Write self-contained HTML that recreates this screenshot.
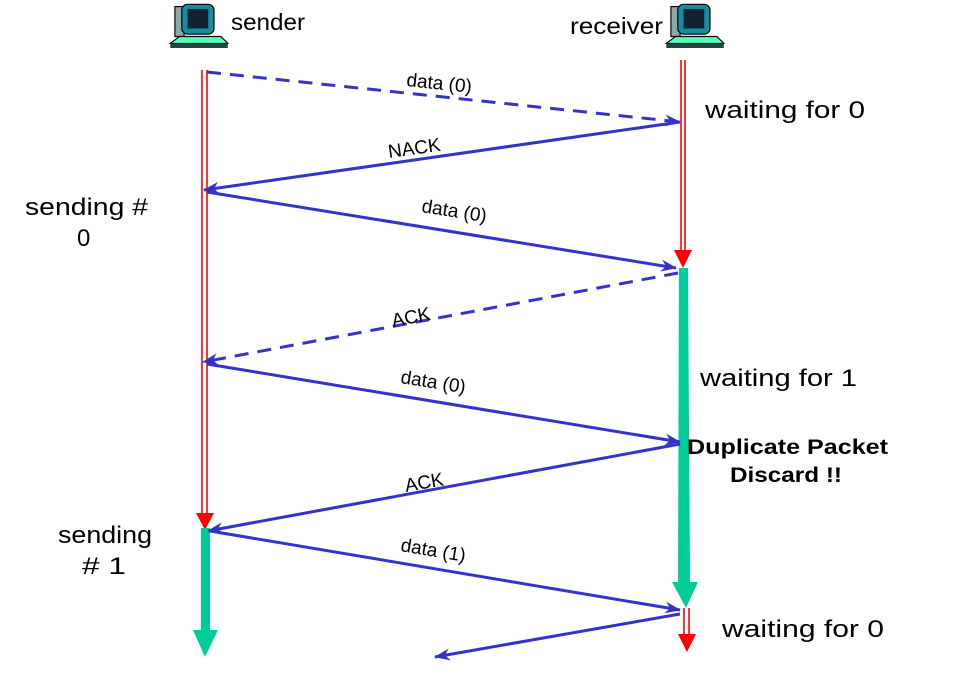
<!DOCTYPE html>
<html><head><style>
body{margin:0;background:#fff;}
svg{display:block;font-family:"Liberation Sans",sans-serif;}
</style></head><body>
<svg width="966" height="686" viewBox="0 0 966 686" xmlns="http://www.w3.org/2000/svg">
<defs>
<marker id="a" markerWidth="16" markerHeight="12" refX="15" refY="6" orient="auto" markerUnits="userSpaceOnUse">
<path d="M0,0 L16,6 L0,12 L5,6 Z" fill="#3333cc"/></marker>
</defs>
<g transform="translate(168,2) scale(1.15)">
<rect x="6" y="4" width="8" height="26" fill="#8aa" stroke="#000"/>
<rect x="12" y="2" width="28" height="26" rx="5" fill="#1a8aa0" stroke="#000"/>
<rect x="17" y="6" width="18" height="17" fill="#123" />
<path d="M2,36 L10,30 L46,30 L52,36 Z" fill="#5fb" stroke="#000"/>
<rect x="2" y="36" width="50" height="4" fill="#244"/>
</g>
<g transform="translate(664,2) scale(1.15)">
<rect x="6" y="4" width="8" height="26" fill="#8aa" stroke="#000"/>
<rect x="12" y="2" width="28" height="26" rx="5" fill="#1a8aa0" stroke="#000"/>
<rect x="17" y="6" width="18" height="17" fill="#123" />
<path d="M2,36 L10,30 L46,30 L52,36 Z" fill="#5fb" stroke="#000"/>
<rect x="2" y="36" width="50" height="4" fill="#244"/>
</g>
<text x="231" y="30" font-size="23" textLength="74" lengthAdjust="spacingAndGlyphs">sender</text>
<text x="570" y="34" font-size="23" textLength="93" lengthAdjust="spacingAndGlyphs">receiver</text>

<g stroke="#f00" stroke-width="1.6">
<line x1="202" y1="70" x2="202" y2="515"/><line x1="207" y1="70" x2="207" y2="515"/>
<line x1="681" y1="60" x2="681" y2="252"/><line x1="685" y1="60" x2="685" y2="252"/>
<line x1="684" y1="608" x2="684" y2="636"/><line x1="689" y1="608" x2="689" y2="636"/>
</g>
<polygon points="196,513 214,513 205,530" fill="#f00"/>
<polygon points="674,250 692,250 683,268" fill="#f00"/>
<polygon points="678,634 696,634 687,652" fill="#f00"/>
<polygon points="679,268 688,268 690,582 678,582" fill="#00cc99"/>
<polygon points="672,582 698,582 686,608" fill="#00cc99"/>
<rect x="201" y="528" width="9" height="104" fill="#00cc99"/>
<polygon points="193,630 218,630 205,657" fill="#00cc99"/>

<g stroke="#3333cc" stroke-width="3" fill="none" marker-end="url(#a)">
<line x1="207" y1="72" x2="680" y2="122" stroke-dasharray="14,9"/>
<line x1="680" y1="122" x2="204" y2="190"/>
<line x1="207" y1="192" x2="676" y2="268"/>
<line x1="678" y1="273" x2="203" y2="362" stroke-dasharray="14,9"/>
<line x1="207" y1="364" x2="680" y2="442"/>
<line x1="680" y1="444" x2="208" y2="531"/>
<line x1="210" y1="531" x2="680" y2="610"/>
<line x1="680" y1="614" x2="435" y2="657"/>
</g>

<g font-size="19">
<text transform="translate(406,86) rotate(6)">data (0)</text>
<text transform="translate(389,158) rotate(-8)">NACK</text>
<text transform="translate(421,212) rotate(9)">data (0)</text>
<text transform="translate(393,327) rotate(-11)">ACK</text>
<text transform="translate(400,383) rotate(9)">data (0)</text>
<text transform="translate(406,492) rotate(-10)">ACK</text>
<text transform="translate(400,551) rotate(9.5)">data (1)</text>
</g>

<g font-size="24">
<text x="705" y="118" textLength="160" lengthAdjust="spacingAndGlyphs">waiting for 0</text>
<text x="25" y="215" textLength="123" lengthAdjust="spacingAndGlyphs">sending #</text>
<text x="77" y="246">0</text>
<text x="700" y="386" textLength="157" lengthAdjust="spacingAndGlyphs">waiting for 1</text>
<text x="58" y="543" textLength="94" lengthAdjust="spacingAndGlyphs">sending</text>
<text x="82" y="574" textLength="44" lengthAdjust="spacingAndGlyphs"># 1</text>
<text x="722" y="637" textLength="162" lengthAdjust="spacingAndGlyphs">waiting for 0</text>
</g>
<g font-size="21" font-weight="bold">
<text x="687" y="454" textLength="201" lengthAdjust="spacingAndGlyphs">Duplicate Packet</text>
<text x="730" y="482" textLength="112" lengthAdjust="spacingAndGlyphs">Discard !!</text>
</g>
</svg>
</body></html>
